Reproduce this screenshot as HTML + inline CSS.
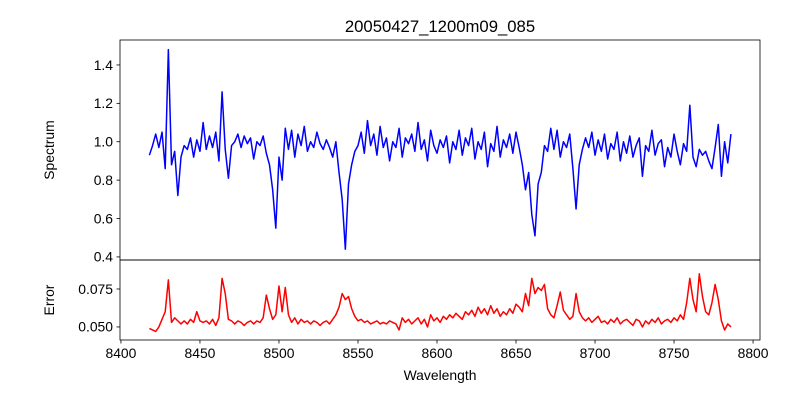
<!DOCTYPE html>
<html><head><meta charset="utf-8"><style>
body{margin:0;background:#fff}
svg{display:block;font-family:"Liberation Sans","DejaVu Sans",sans-serif}
</style></head><body>
<svg id="c" width="800" height="400" viewBox="0 0 800 400" xmlns="http://www.w3.org/2000/svg">
<rect width="800" height="400" fill="#fff"/>
<text x="440" y="32" font-size="16.7" text-anchor="middle">20050427_1200m09_085</text>
<g id="top"></g>
<g id="bot"></g>
<text x="440" y="380" font-size="13.9" text-anchor="middle">Wavelength</text>
<text transform="translate(54,150) rotate(-90)" font-size="13.9" text-anchor="middle">Spectrum</text>
<text transform="translate(54,300) rotate(-90)" font-size="13.9" text-anchor="middle">Error</text>
</svg>
<script>
const wlStart=8418, wlStep=2;
const spectrum=[0.93,0.98,1.04,0.97,1.05,0.86,1.48,0.88,0.95,0.72,0.92,0.98,0.96,1.02,0.92,1.01,0.95,1.10,0.96,1.03,0.97,1.05,0.90,1.26,0.96,0.81,0.98,1.00,1.04,0.97,1.03,0.99,1.02,0.91,1.00,0.98,1.03,0.94,0.88,0.75,0.55,0.92,0.80,1.07,0.96,1.06,0.92,1.04,0.98,1.08,0.95,1.00,0.97,1.05,0.99,0.96,1.01,0.97,0.92,1.00,0.84,0.70,0.44,0.78,0.88,0.95,0.98,1.05,0.94,1.11,0.98,1.04,0.93,1.08,0.97,1.02,0.90,1.00,0.97,1.07,0.92,1.02,0.99,1.04,0.95,1.10,0.96,1.01,0.90,1.06,0.98,0.94,1.01,0.97,1.03,0.89,1.00,0.96,1.06,0.93,1.02,0.98,1.07,0.91,1.00,0.96,1.05,0.87,0.99,0.95,1.08,0.92,1.01,0.97,1.04,0.94,1.05,0.97,0.88,0.75,0.84,0.62,0.51,0.78,0.84,0.98,0.95,1.07,0.96,1.06,0.92,1.00,0.97,1.04,0.86,0.65,0.88,0.96,1.02,0.97,1.05,0.93,1.01,0.95,1.04,0.91,0.99,0.96,1.05,0.90,1.00,0.94,1.03,0.92,0.98,1.02,0.82,0.98,0.95,1.06,0.93,0.99,1.01,0.87,0.97,0.92,1.04,0.95,0.88,0.99,0.95,1.19,0.92,0.87,0.96,0.93,0.95,0.90,0.86,0.97,1.09,0.82,1.00,0.89,1.04];
const errors=[0.049,0.048,0.047,0.050,0.055,0.060,0.081,0.053,0.056,0.054,0.052,0.054,0.052,0.055,0.053,0.060,0.054,0.053,0.054,0.052,0.055,0.051,0.056,0.082,0.072,0.055,0.054,0.052,0.054,0.053,0.051,0.053,0.054,0.052,0.054,0.053,0.056,0.071,0.062,0.055,0.058,0.077,0.060,0.076,0.058,0.053,0.056,0.052,0.055,0.053,0.054,0.052,0.054,0.053,0.051,0.053,0.054,0.052,0.055,0.058,0.063,0.072,0.068,0.070,0.062,0.057,0.054,0.055,0.053,0.054,0.052,0.053,0.054,0.052,0.053,0.052,0.054,0.053,0.052,0.048,0.056,0.053,0.055,0.052,0.054,0.056,0.052,0.055,0.050,0.058,0.054,0.056,0.053,0.057,0.055,0.058,0.056,0.059,0.057,0.055,0.060,0.058,0.061,0.057,0.063,0.059,0.062,0.058,0.064,0.059,0.062,0.057,0.060,0.058,0.062,0.059,0.065,0.063,0.060,0.072,0.064,0.082,0.072,0.076,0.074,0.078,0.062,0.058,0.056,0.064,0.073,0.061,0.058,0.055,0.057,0.072,0.060,0.056,0.054,0.056,0.053,0.055,0.057,0.053,0.054,0.052,0.055,0.053,0.056,0.052,0.054,0.055,0.053,0.051,0.055,0.054,0.050,0.054,0.052,0.055,0.053,0.056,0.052,0.054,0.055,0.053,0.056,0.054,0.058,0.055,0.066,0.082,0.068,0.060,0.085,0.070,0.060,0.058,0.066,0.078,0.068,0.054,0.048,0.052,0.050];
const xTicks=[8400,8450,8500,8550,8600,8650,8700,8750,8800];
const specTicks=[0.4,0.6,0.8,1.0,1.2,1.4];
const errTicks=[0.050,0.075];

const NS="http://www.w3.org/2000/svg";
const L=120,R=760;
const xs=v=>L+(v-8399.4)*(R-L)/(8804.4-8399.4);
const yTop=v=>40+(1.530-v)*220/(1.530-0.384);
const yBot=v=>260+(0.0941-v)*80/(0.0941-0.0414);
function mk(tag,attrs,parent){const e=document.createElementNS(NS,tag);for(const k in attrs)e.setAttribute(k,attrs[k]);parent.appendChild(e);return e;}
function panel(g,vals,yf,y0,y1,color,ticks,fmt,showX,nm){
  const n=vals.length;let d="";
  for(let i=0;i<n;i++){d+=(i?"L":"M")+xs(wlStart+i*wlStep).toFixed(2)+","+yf(vals[i]).toFixed(2);}
  const p=mk("path",{d:d,fill:"none",stroke:color,"stroke-width":1.5,"stroke-linejoin":"round"},g);
  
  
  ticks.forEach(t=>{const y=yf(t);
    mk("line",{x1:L-3.5,x2:L,y1:y,y2:y,stroke:"#000","stroke-width":0.8},g);
    const tx=mk("text",{x:L-7,y:y+4.8,"font-size":13.9,"text-anchor":"end"},g);tx.textContent=fmt(t);
    
    
  });
  if(showX){xTicks.forEach(t=>{const x=xs(t);
    mk("line",{x1:x,x2:x,y1:y1,y2:y1+3.5,stroke:"#000","stroke-width":0.8},g);
    const tx=mk("text",{x:x,y:y1+18,"font-size":13.9,"text-anchor":"middle"},g);tx.textContent=t;
    
    
  });}
  mk("rect",{x:L,y:y0,width:R-L,height:y1-y0,fill:"none",stroke:"#000","stroke-width":0.8},g);
}
panel(document.getElementById("top"),spectrum,yTop,40,260,"#0000ff",specTicks,t=>t.toFixed(1),false,"spectrum-line");
panel(document.getElementById("bot"),errors,yBot,260,340,"#ff0000",errTicks,t=>t.toFixed(3),true,"error-line");
</script>
</body></html>
